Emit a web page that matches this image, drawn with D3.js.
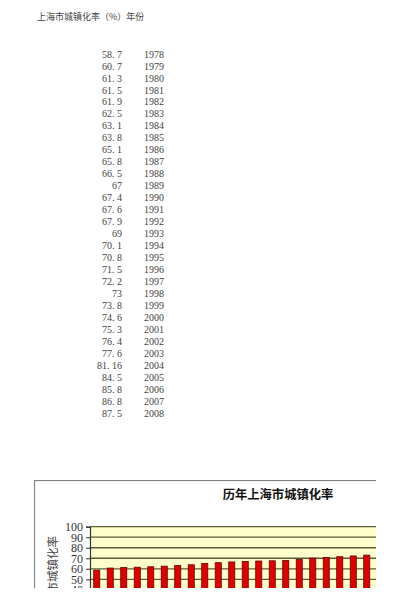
<!DOCTYPE html>
<html>
<head>
<meta charset="utf-8">
<script src="https://cdn.jsdelivr.net/npm/d3@7"></script>
<style>
  body { margin: 0; background: #fff; }
  svg { display: block; }
</style>
</head>
<body>
<div id="chart-area"></div>
<script>
// data read from the sheet
const years = ["1978","1979","1980","1981","1982","1983","1984","1985","1986","1987",
  "1988","1989","1990","1991","1992","1993","1994","1995","1996","1997",
  "1998","1999","2000","2001","2002","2003","2004","2005","2006","2007","2008"]
const rates = ["58.7","60.7","61.3","61.5","61.9","62.5","63.1","63.8","65.1","65.8",
  "66.5","67","67.4","67.6","67.9","69","70.1","70.8","71.5","72.2",
  "73","73.8","74.6","75.3","76.4","77.6","81.16","84.5","85.8","86.8","87.5"]
const yTicks = [0, 10, 20, 30, 40, 50, 60, 70, 80, 90, 100]

const headerText = "上海市城镇化率（%）年份"
const chartTitle = "历年上海市城镇化率"
const yTitle = "上海市城镇化率"

const W = 400, H = 607
const svg = d3.select("#chart-area").append("svg")
  .attr("width", W)
  .attr("height", H)

// sheet header + table
svg.append("text")
  .attr("x", 37)
  .attr("y", 20)
  .attr("font-family", "'Noto Sans CJK SC', sans-serif")
  .attr("font-size", "9px")
  .attr("fill", "#444")
  .text(headerText)

const rowY = d3.scaleLinear()
  .domain([0, years.length - 1])
  .range([54, 413])

const table = svg.append("g")
rates.forEach((v, i) => {
  table.append("text")
    .attr("x", 122)
    .attr("y", rowY(i) + 3.6)
    .attr("text-anchor", "end")
    .attr("font-family", "'Liberation Serif', serif")
    .attr("font-size", "10px")
    .attr("fill", "#444")
    .text(v.replace(".", ". "))
  table.append("text")
    .attr("x", 144)
    .attr("y", rowY(i) + 3.6)
    .attr("font-family", "'Liberation Serif', serif")
    .attr("font-size", "10px")
    .attr("fill", "#444")
    .text(years[i])
})

// embedded chart, cropped like the picture
const CLIP = { LEFT: 34, TOP: 480, RIGHT: 376, BOTTOM: 588 }
svg.append("clipPath").attr("id", "crop")
  .append("rect")
  .attr("x", CLIP.LEFT)
  .attr("y", CLIP.TOP)
  .attr("width", CLIP.RIGHT - CLIP.LEFT)
  .attr("height", CLIP.BOTTOM - CLIP.TOP)

const chart = svg.append("g").attr("clip-path", "url(#crop)")

// frame of the chart object
chart.append("rect")
  .attr("x", CLIP.LEFT + 0.5)
  .attr("y", CLIP.TOP + 0.5)
  .attr("width", 420)
  .attr("height", 200)
  .attr("fill", "#fff")
  .attr("stroke", "#808080")
  .attr("stroke-width", 1.2)

chart.append("text")
  .attr("x", 278)
  .attr("y", 498.5)
  .attr("text-anchor", "middle")
  .attr("font-family", "'Noto Sans CJK SC', sans-serif")
  .attr("font-weight", "bold")
  .attr("font-size", "12.3px")
  .attr("fill", "#111")
  .text(chartTitle)

// scales
const x = d3.scaleBand()
  .domain(years)
  .range([90, 90 + 13.5 * years.length])
  .paddingInner(0.55)
  .paddingOuter(0.275)
const y = d3.scaleLinear()
  .domain([0, 100])
  .range([631.9, 526.7])

// plot area
chart.append("rect")
  .attr("x", 90)
  .attr("y", y(100))
  .attr("width", 13.5 * years.length)
  .attr("height", y(0) - y(100))
  .attr("fill", "#ffffcc")

chart.append("g")
  .selectAll("line")
  .data(yTicks)
  .enter().append("line")
  .attr("x1", 90)
  .attr("x2", 90 + 13.5 * years.length)
  .attr("y1", d => y(d))
  .attr("y2", d => y(d))
  .attr("stroke", "#5c5c3a")
  .attr("stroke-width", 1.3)

// bars
chart.append("g")
  .selectAll("rect")
  .data(rates)
  .enter().append("rect")
  .attr("x", (d, i) => x(years[i]))
  .attr("y", d => y(+d))
  .attr("width", x.bandwidth())
  .attr("height", d => y(0) - y(+d))
  .attr("fill", "#e00000")
  .attr("stroke", "#6a0000")
  .attr("stroke-width", 0.8)

// y axis
const yAxisCall = d3.axisLeft(y)
  .tickValues(yTicks)
  .tickSize(4)
  .tickPadding(3)
const yAxis = chart.append("g")
  .attr("transform", "translate(90, 0)")
  .call(yAxisCall)
yAxis.select(".domain").attr("stroke", "#333").attr("stroke-width", 1.2)
yAxis.selectAll(".tick line").attr("stroke", "#333")
yAxis.selectAll(".tick text")
  .attr("font-family", "'Liberation Serif', serif")
  .attr("font-size", "12px")
  .attr("fill", "#333")
// labels that sit wholly below the crop are never seen
yAxis.selectAll(".tick")
  .filter(d => y(d) - 5 > CLIP.BOTTOM)
  .select("text").remove()

chart.append("text")
  .attr("transform", "translate(57, 536) rotate(-90)")
  .attr("text-anchor", "end")
  .attr("font-family", "'Noto Sans CJK SC', sans-serif")
  .attr("font-size", "11.5px")
  .attr("fill", "#444")
  .text(yTitle)
</script>
</body>
</html>
